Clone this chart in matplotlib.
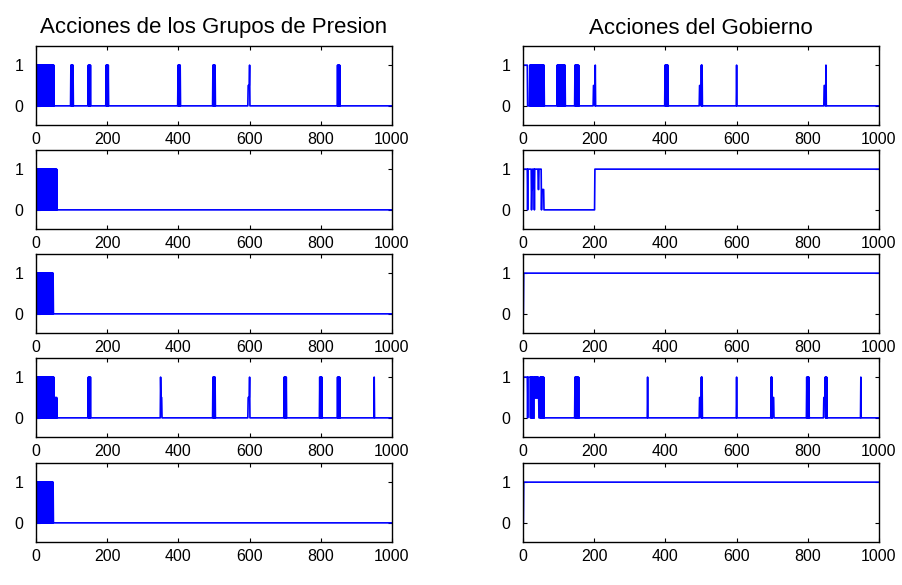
import numpy as np
import matplotlib
matplotlib.use("Agg")
import matplotlib.pyplot as plt

plt.rcParams['font.family'] = ['Liberation Sans', 'DejaVu Sans']
plt.rcParams['path.simplify'] = False

N_STEPS = 1000
col_titles = ["Acciones de los Grupos de Presion", "Acciones del Gobierno"]
x_ticks = [0, 200, 400, 600, 800, 1000]
y_ticks = [0, 1]

# each panel: holds = (start, end, level) held constant,
# bursts = (start, end, level) rapid switching every step (filled blocks)
grupos_holds = [
    [(596, 599, 0.5), (600, 600, 1)],
    [],
    [],
    [(350, 350, 1), (351, 353, 0.5), (596, 599, 0.5), (600, 600, 1), (950, 950, 1)],
    [],
]
grupos_bursts = [
    [(0, 50, 1), (98, 104, 1), (147, 153, 1), (197, 203, 1), (399, 405, 1),
     (497, 503, 1), (847, 853, 1)],
    [(0, 58, 1)],
    [(0, 48, 1)],
    [(0, 51, 1), (52, 58, 0.5), (147, 153, 1), (497, 503, 1), (697, 703, 1),
     (797, 803, 1), (847, 853, 1)],
    [(0, 48, 1)],
]

gobierno_holds = [
    [(1, 12, 1), (198, 201, 0.5), (203, 203, 1), (496, 499, 0.5), (600, 600, 1),
     (846, 848, 0.5), (851, 851, 1)],
    [(1, 12, 1), (14, 23, 1), (25, 26, 0.5), (27, 31, 1), (33, 42, 1),
     (43, 44, 0.5), (45, 51, 1), (53, 58, 0.5), (202, 1000, 1)],
    [(2, 1000, 1)],
    [(1, 12, 1), (14, 20, 1), (31, 44, 0.5), (350, 350, 1), (496, 499, 0.5),
     (600, 600, 1), (701, 704, 0.5), (845, 848, 0.5), (949, 949, 1)],
    [(2, 1000, 1)],
]
gobierno_bursts = [
    [(19, 59, 1), (96, 118, 1), (146, 157, 1), (399, 407, 1), (501, 503, 1)],
    [],
    [],
    [(22, 30, 1), (31, 44, 1), (48, 58, 1), (146, 157, 1), (501, 504, 1),
     (697, 700, 1), (797, 804, 1), (849, 853, 1)],
    [],
]


def build_series(holds, bursts):
    y = np.zeros(N_STEPS + 1)
    for s, e, lev in holds:
        y[s:e + 1] = lev
    for s, e, lev in bursts:
        y[s:e + 1:2] = lev
    return y


fig = plt.figure(figsize=(9.03, 5.85), dpi=100)
W, H = 903, 585
col_left = [36, 523]
ax_w = 356
row_top = [46, 150, 254, 358, 463]
ax_h = 79

t = np.arange(N_STEPS + 1)
panels = [(grupos_holds, grupos_bursts), (gobierno_holds, gobierno_bursts)]
blue = (0, 0, 1)

for c in range(2):
    holds_list, bursts_list = panels[c]
    for r in range(5):
        ax = fig.add_axes([col_left[c] / W, 1 - (row_top[r] + ax_h) / H,
                           ax_w / W, ax_h / H])
        y = build_series(holds_list[r], bursts_list[r])
        ax.plot(t, y, color=blue, lw=1.2)
        # dense switching shows as a solid block
        for s, e, lev in bursts_list[r]:
            seg = y[s:e + 1]
            ax.fill_between(t[s:e + 1], seg.min(), seg.max(), color=blue, lw=0.6)
        ax.set_xlim(0, 1000)
        ax.set_ylim(-0.47, 1.47)
        ax.set_xticks(x_ticks)
        ax.set_yticks(y_ticks)
        ax.tick_params(direction='in', length=3, width=0.8, top=True, right=True,
                       labelsize=11.5, colors='black')
        ax.tick_params(axis='x', pad=5)
        ax.tick_params(axis='y', pad=9)
        for sp in ax.spines.values():
            sp.set_linewidth(1.0)
        if r == 0:
            ax.set_title(col_titles[c], fontsize=16, pad=9)

fig.savefig("out.png", dpi=100)
